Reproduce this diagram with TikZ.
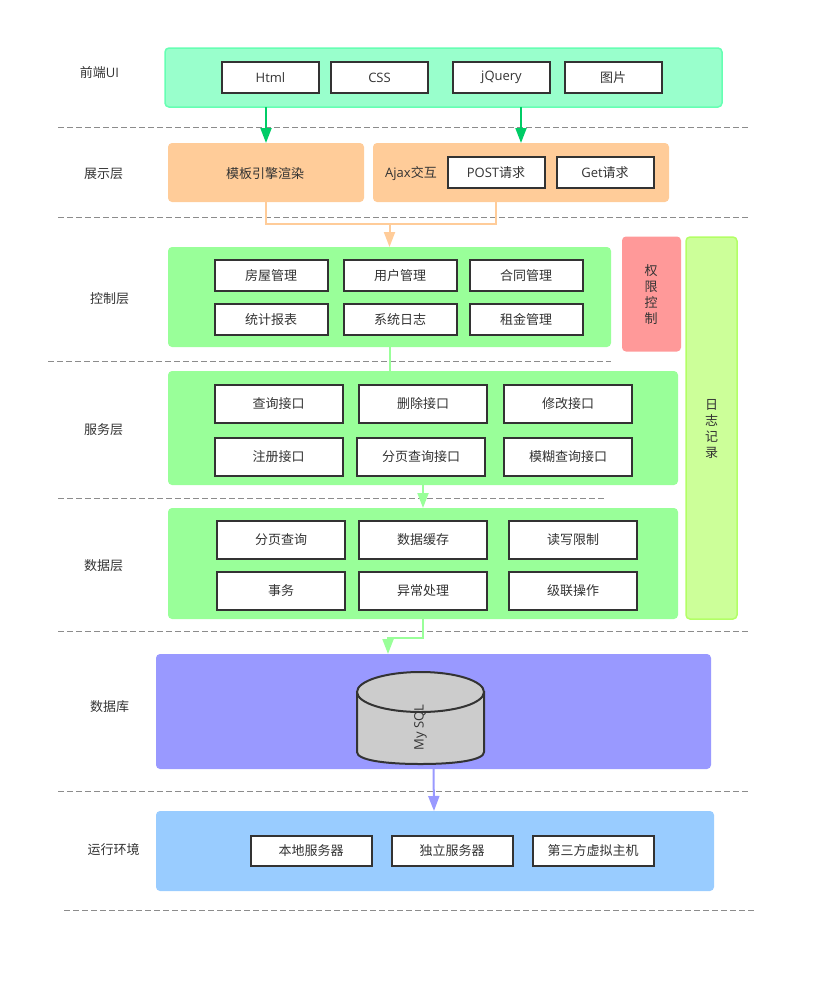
\documentclass[tikz,border=0pt]{standalone}
\usepackage{fontspec}
\setmainfont{Noto Sans CJK SC}
\newfontfamily\latinf{Open Sans}
\newcommand{\lt}[1]{{\latinf #1}}
\usetikzlibrary{arrows.meta,calc,shapes.geometric}
\definecolor{txt}{HTML}{333333}
\definecolor{bdark}{HTML}{333333}
\definecolor{cfront}{HTML}{99FFCC}
\definecolor{cfrontb}{HTML}{66FFB3}
\definecolor{corange}{HTML}{FFCC99}
\definecolor{cgreen}{HTML}{99FF99}
\definecolor{cred}{HTML}{FF9999}
\definecolor{clime}{HTML}{CCFF99}
\definecolor{climeb}{HTML}{B3FF66}
\definecolor{cpurple}{HTML}{9999FF}
\definecolor{cblue}{HTML}{99CCFF}
\definecolor{cdb}{HTML}{CCCCCC}
\definecolor{cgarrow}{HTML}{00CC66}
\tikzset{
  x=1pt,y=-1pt,
  every node/.style={font=\fontsize{13}{15}\selectfont,text=txt,inner sep=0pt,outer sep=0pt},
  lab/.style={anchor=center},
  panel/.style={rounded corners=4pt,anchor=center,draw=none},
  wbox/.style={draw=bdark,line width=2pt,fill=white,anchor=center},
  sep/.style={draw=black!45,line width=1pt,dash pattern=on 6pt off 3pt},
  tip/.style={-{Triangle[length=15pt,width=11pt]}},
}
\newcommand{\panelnode}[7]{\node[panel,fill=#6,#7,minimum width=#4pt,minimum height=#5pt] (#1) at (#2,#3) {};}
\newcommand{\wb}[6]{\node[wbox,minimum width=#4pt,minimum height=#5pt] (#1) at (#2,#3) {\raisebox{-1pt}{#6}};}
\begin{document}
\begin{tikzpicture}
\useasboundingbox (0,0) rectangle (817,983);
% separators
\coordinate (s1a) at (58,127);\coordinate (s1b) at (748,127);
\coordinate (s2a) at (58,217);\coordinate (s2b) at (748,217);
\coordinate (s3a) at (48,361);\coordinate (s3b) at (611,361);
\coordinate (s4a) at (58,498);\coordinate (s4b) at (606,498);
\coordinate (s5a) at (58,631);\coordinate (s5b) at (748,631);
\coordinate (s6a) at (58,791);\coordinate (s6b) at (748,791);
\coordinate (s7a) at (64,910);\coordinate (s7b) at (755,910);
\foreach \i in {1,...,7} \draw[sep] (s\i a) -- (s\i b);
% panels
\panelnode{front}{443.5}{77.5}{557}{59}{cfront}{draw=cfrontb,line width=1.5pt}
\panelnode{mb}{266}{172.5}{196}{59}{corange}{}
\panelnode{ajax}{521}{172.5}{296}{59}{corange}{}
\panelnode{ctrl}{389.5}{297}{443}{100}{cgreen}{}
\panelnode{svc}{423}{428}{510}{114}{cgreen}{}
\panelnode{data}{423}{563.5}{510}{111}{cgreen}{}
\panelnode{auth}{651.5}{294}{59}{115}{cred}{}
\panelnode{logb}{711.5}{428}{51}{382}{clime}{draw=climeb,line width=1.5pt}
\panelnode{db}{433.5}{711.5}{555}{115}{cpurple}{}
\panelnode{env}{435}{851}{558}{80}{cblue}{}
% connectors
\draw[cgarrow,line width=2pt,tip] (mb.north |- front.south) -- (mb.north);
\draw[cgarrow,line width=2pt,tip] (ajax.north |- front.south) -- (ajax.north);
\coordinate (oj) at (496,224);
\draw[corange,line width=2pt] (mb.south) |- (oj) -- (oj |- ajax.south);
\draw[corange,line width=2pt,tip] (ctrl.north |- oj) -- (ctrl.north);
\draw[cgreen,line width=2pt] (ctrl.south) -- (ctrl.south |- svc.north);
\draw[cgreen,line width=2pt,tip] (svc.south) -- (data.north);
\coordinate (dbin) at (388,654);
\draw[cgreen,line width=2pt,tip] (data.south) |- ($(dbin)+(0,-16)$) -- (dbin);
\coordinate (dbout) at (433.5,769);
\coordinate (envin) at (434,811);
\draw[cpurple,line width=2pt,tip] (dbout) -- (envin);
% labels
\node[lab] (l1) at (99.5,73) {前端\lt{UI}};
\node[lab] (l2) at (103.5,174) {展示层};
\node[lab] (l3) at (109.5,298.5) {控制层};
\node[lab] (l4) at (103.5,429.5) {服务层};
\node[lab] (l5) at (103.5,566) {数据层};
\node[lab] (l6) at (109.5,707) {数据库};
\node[lab] (l7) at (113.5,850) {运行环境};
% front
\wb{b1}{270.5}{77.5}{97}{31}{\lt{Html}}
\wb{b2}{379.5}{77.5}{97}{31}{\lt{CSS}}
\wb{b3}{501.5}{77.5}{97}{31}{\lt{jQuery}}
\wb{b4}{613}{77.5}{97}{31}{图片}
% presentation
\node[lab] (mbt) at (265,174) {模板引擎渲染};
\node[lab] (ajt) at (411,174) {\lt{Ajax}交互};
\wb{p1}{496}{172.5}{97}{31}{\lt{POST}请求}
\wb{p2}{605}{172.5}{97}{31}{\lt{Get}请求}
% control
\wb{c1}{271}{275.5}{113}{31}{房屋管理}
\wb{c2}{400}{275.5}{113}{31}{用户管理}
\wb{c3}{526}{275.5}{113}{31}{合同管理}
\wb{c4}{271}{319.5}{113}{31}{统计报表}
\wb{c5}{400}{319.5}{113}{31}{系统日志}
\wb{c6}{526}{319.5}{113}{31}{租金管理}
% service
\wb{s1}{278.5}{404}{128}{38}{查询接口}
\wb{s2}{423}{404}{128}{38}{删除接口}
\wb{s3}{568}{404}{128}{38}{修改接口}
\wb{s4}{278.5}{457}{128}{38}{注册接口}
\wb{s5}{421}{457}{128}{38}{分页查询接口}
\wb{s6}{568}{457}{128}{38}{模糊查询接口}
% data
\wb{d1}{281}{540}{128}{38}{分页查询}
\wb{d2}{423}{540}{128}{38}{数据缓存}
\wb{d3}{573}{540}{128}{38}{读写限制}
\wb{d4}{281}{591}{128}{38}{事务}
\wb{d5}{423}{591}{128}{38}{异常处理}
\wb{d6}{573}{591}{128}{38}{级联操作}
% side
\node[lab,align=center,font=\fontsize{13}{16}\selectfont] (autht) at (651,295) {权\\限\\控\\制};
\node[lab,align=center,font=\fontsize{13}{16}\selectfont] (logt) at (711.5,429) {日\\志\\记\\录};
% cylinder
\path[fill=cdb,draw=bdark,line width=2pt] (357,692) -- (484,692)
  -- (484,752) .. controls (484,760) and (457,764) .. (420.5,764) .. controls (384,764) and (357,760) .. (357,752) -- cycle;
\node[draw=bdark,fill=cdb,line width=2pt,shape=ellipse,minimum width=127pt,minimum height=40pt,anchor=center] (cyl) at (420.5,692) {};
\node[lab,rotate=90] (cylt) at (420.5,727.5) {\lt{My SQL}};
% env
\wb{e1}{311}{851}{121}{30}{本地服务器}
\wb{e2}{452}{851}{121}{30}{独立服务器}
\wb{e3}{593}{851}{121}{30}{第三方虚拟主机}
\end{tikzpicture}
\end{document}
